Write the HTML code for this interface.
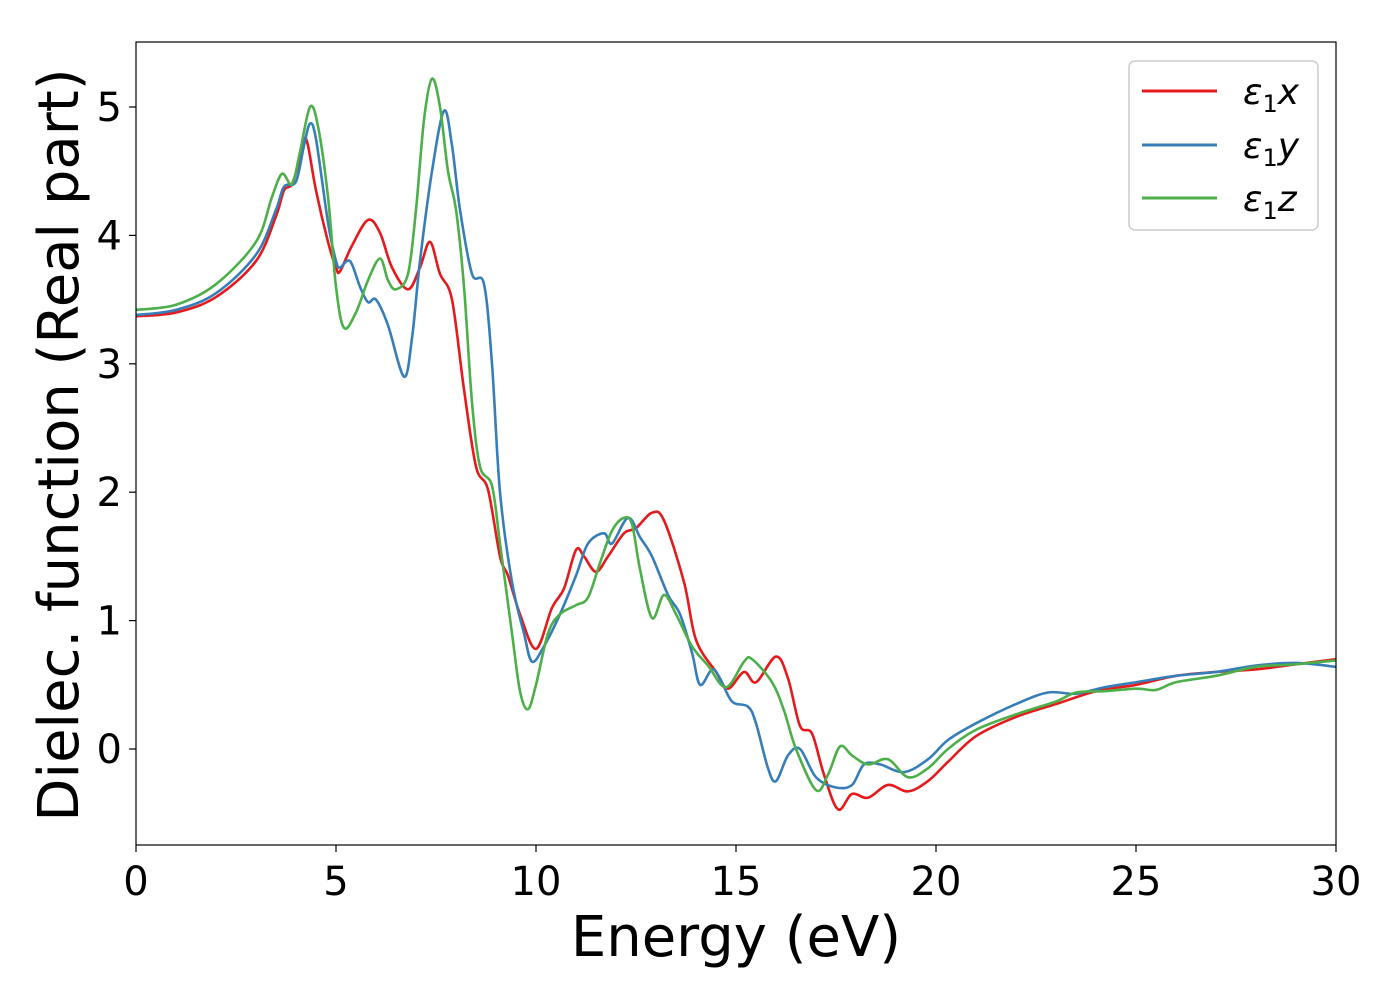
<!DOCTYPE html>
<html><head><meta charset="utf-8"><style>
body{margin:0;background:#fff}
svg text{font-family:"DejaVu Sans","Liberation Sans",sans-serif;fill:#000}
</style></head><body>
<svg id="chart" width="1400" height="1000" xmlns="http://www.w3.org/2000/svg">
<rect width="1400" height="1000" fill="#fff"/>
<g id="plot"></g>
<g id="axes"></g>
<text x="736" y="956" font-size="56" text-anchor="middle">Energy (eV)</text>
<text transform="translate(78,445) rotate(-90)" font-size="56" text-anchor="middle">Dielec. function (Real part)</text>
<g>
<rect x="1129" y="61" width="189" height="169" rx="6" fill="#fff" stroke="#ccc" stroke-width="1.5"/>
<line x1="1142" y1="91" x2="1217" y2="91" stroke="#e41a1c" stroke-width="3"/>
<text x="1243" y="104" font-size="36" font-style="italic">ε<tspan font-size="24" dy="8" font-style="normal">1</tspan><tspan dy="-8">x</tspan></text>
<line x1="1142" y1="145" x2="1217" y2="145" stroke="#377eb8" stroke-width="3"/>
<text x="1243" y="158" font-size="36" font-style="italic">ε<tspan font-size="24" dy="8" font-style="normal">1</tspan><tspan dy="-8">y</tspan></text>
<line x1="1142" y1="198" x2="1217" y2="198" stroke="#4daf4a" stroke-width="3"/>
<text x="1243" y="211" font-size="36" font-style="italic">ε<tspan font-size="24" dy="8" font-style="normal">1</tspan><tspan dy="-8">z</tspan></text>
</g>
</svg>
<script>
const xTicks=[0,5,10,15,20,25,30];
const yTicks=[0,1,2,3,4,5];
const redE=[0,1,2,3,3.5,3.7,3.9,4.1,4.2,4.3,4.5,4.8,5.0,5.1,5.4,5.8,6.1,6.4,6.8,7.1,7.35,7.6,7.9,8.2,8.5,8.8,9.1,9.3,9.6,10.0,10.4,10.7,11.0,11.2,11.5,11.8,12.2,12.5,12.9,13.2,13.7,14.0,14.5,14.8,15.2,15.5,16.0,16.3,16.6,16.9,17.2,17.55,17.9,18.3,18.8,19.3,19.8,20.3,21,22,23,24,25,26,27,28,29,30];
const redV=[3.37,3.40,3.52,3.80,4.15,4.35,4.4,4.6,4.75,4.7,4.35,3.95,3.75,3.72,3.92,4.12,4.02,3.75,3.58,3.75,3.95,3.7,3.5,2.8,2.2,2.02,1.5,1.35,1.05,0.78,1.1,1.25,1.55,1.5,1.38,1.5,1.68,1.72,1.84,1.78,1.3,0.85,0.6,0.47,0.6,0.52,0.72,0.55,0.18,0.12,-0.2,-0.47,-0.35,-0.38,-0.28,-0.33,-0.25,-0.1,0.1,0.25,0.35,0.45,0.5,0.57,0.6,0.62,0.66,0.7];
const blueE=[0,1,2,3,3.5,3.7,4.0,4.2,4.35,4.5,4.8,5.0,5.1,5.35,5.6,5.8,6.0,6.3,6.7,6.9,7.1,7.4,7.7,7.9,8.1,8.4,8.7,8.9,9.1,9.4,9.7,9.9,10.2,10.6,11.0,11.3,11.7,11.9,12.3,12.6,12.9,13.3,13.6,13.9,14.1,14.4,14.6,14.9,15.3,15.5,15.8,16.0,16.3,16.6,17.0,17.5,17.9,18.2,18.6,19.2,19.8,20.3,21,22,22.8,23.5,24.2,25,26,27,28,29,30];
const blueV=[3.38,3.42,3.55,3.85,4.2,4.38,4.42,4.7,4.87,4.75,4.1,3.8,3.75,3.8,3.6,3.48,3.5,3.3,2.9,3.2,3.8,4.5,4.97,4.7,4.2,3.7,3.62,3.0,2.0,1.3,0.9,0.68,0.8,1.05,1.35,1.6,1.68,1.6,1.8,1.65,1.5,1.2,1.05,0.75,0.5,0.62,0.55,0.37,0.33,0.2,-0.15,-0.25,-0.05,0.0,-0.22,-0.3,-0.28,-0.12,-0.12,-0.18,-0.08,0.07,0.2,0.35,0.44,0.43,0.48,0.52,0.57,0.6,0.65,0.67,0.64];
const greenE=[0,1,2,3,3.4,3.65,3.9,4.1,4.35,4.55,4.8,5.0,5.2,5.5,5.8,6.1,6.3,6.5,6.8,7.0,7.2,7.4,7.6,7.8,8.0,8.2,8.4,8.6,8.9,9.1,9.4,9.6,9.8,10.0,10.3,10.6,11.0,11.3,11.6,11.9,12.2,12.4,12.6,12.9,13.2,13.5,13.9,14.3,14.75,15.2,15.4,15.9,16.2,16.5,17.0,17.3,17.6,17.9,18.3,18.8,19.3,19.8,20.3,21,22,23,23.5,24.2,25,25.5,26,27,28,29,30];
const greenV=[3.42,3.46,3.62,3.95,4.3,4.48,4.4,4.65,5.0,4.85,4.3,3.6,3.28,3.4,3.65,3.82,3.65,3.58,3.7,4.2,4.9,5.22,5.0,4.5,4.2,3.6,2.7,2.2,2.05,1.6,0.9,0.45,0.31,0.5,0.9,1.05,1.12,1.18,1.45,1.7,1.8,1.75,1.4,1.02,1.2,1.05,0.8,0.65,0.48,0.68,0.7,0.52,0.3,0.0,-0.32,-0.2,0.02,-0.05,-0.12,-0.08,-0.22,-0.15,0.0,0.15,0.27,0.37,0.44,0.45,0.47,0.46,0.52,0.57,0.64,0.66,0.69];

const L=136,R=1336,T=42,B=845;
function xs(e){return L+(e-0)/(30-0)*(R-L);}
function ys(v){return 749-v*128.4;}
const NS='http://www.w3.org/2000/svg';
const plot=document.getElementById('plot');
const axes=document.getElementById('axes');
function path(E,V){
  const p=E.map((e,i)=>[xs(e),ys(V[i])]);
  let d='M'+p[0][0]+','+p[0][1];
  for(let i=0;i<p.length-1;i++){
    const p0=p[Math.max(0,i-1)],p1=p[i],p2=p[i+1],p3=p[Math.min(p.length-1,i+2)];
    const c1=[p1[0]+(p2[0]-p0[0])/6,p1[1]+(p2[1]-p0[1])/6];
    const c2=[p2[0]-(p3[0]-p1[0])/6,p2[1]-(p3[1]-p1[1])/6];
    d+=`C${c1[0]},${c1[1]} ${c2[0]},${c2[1]} ${p2[0]},${p2[1]}`;
  }
  return d;
}
const clip=document.createElementNS(NS,'clipPath');clip.setAttribute('id','cp');
const cr=document.createElementNS(NS,'rect');cr.setAttribute('x',L);cr.setAttribute('y',T);cr.setAttribute('width',R-L);cr.setAttribute('height',B-T);
clip.appendChild(cr);plot.appendChild(clip);
plot.setAttribute('clip-path','url(#cp)');
[[redE,redV,'#e41a1c','series-x'],[blueE,blueV,'#377eb8','series-y'],[greenE,greenV,'#4daf4a','series-z']].forEach(s=>{
  const el=document.createElementNS(NS,'path');
  el.setAttribute('d',path(s[0],s[1]));
  el.setAttribute('fill','none');el.setAttribute('stroke',s[2]);el.setAttribute('stroke-width','2.6');
  
  
  plot.appendChild(el);
});
const frame=document.createElementNS(NS,'rect');
frame.setAttribute('x',L);frame.setAttribute('y',T);frame.setAttribute('width',R-L);frame.setAttribute('height',B-T);
frame.setAttribute('fill','none');frame.setAttribute('stroke','#000');frame.setAttribute('stroke-width','1.2');


axes.appendChild(frame);
xTicks.forEach(t=>{
  const l=document.createElementNS(NS,'line');
  l.setAttribute('x1',xs(t));l.setAttribute('x2',xs(t));l.setAttribute('y1',B);l.setAttribute('y2',B+7);l.setAttribute('stroke','#000');l.setAttribute('stroke-width','1.2');
  
  
  axes.appendChild(l);
  const tx=document.createElementNS(NS,'text');
  tx.setAttribute('x',xs(t));tx.setAttribute('y',B+50);tx.setAttribute('font-size','40');tx.setAttribute('text-anchor','middle');
  tx.textContent=t;
  
  
  axes.appendChild(tx);
});
yTicks.forEach(t=>{
  const l=document.createElementNS(NS,'line');
  l.setAttribute('x1',L-7);l.setAttribute('x2',L);l.setAttribute('y1',ys(t));l.setAttribute('y2',ys(t));l.setAttribute('stroke','#000');l.setAttribute('stroke-width','1.2');
  
  
  axes.appendChild(l);
  const tx=document.createElementNS(NS,'text');
  tx.setAttribute('x',L-14);tx.setAttribute('y',ys(t)+14);tx.setAttribute('font-size','40');tx.setAttribute('text-anchor','end');
  tx.textContent=t;
  
  
  axes.appendChild(tx);
});
</script>
</body></html>
